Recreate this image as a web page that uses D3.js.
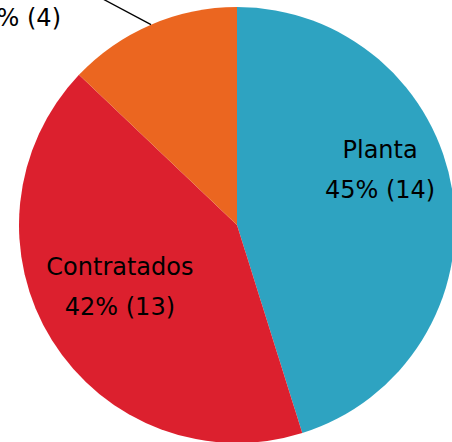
<!DOCTYPE html>
<html>
<head>
<meta charset="utf-8">
<script src="https://cdn.jsdelivr.net/npm/d3@7"></script>
<style>
  html, body { margin: 0; padding: 0; background: #fff; }
  svg { display: block; }
  text { font-family: "DejaVu Sans", sans-serif; font-size: 24px; fill: #000; }
</style>
</head>
<body>
<div id="chart"></div>
<script>
var categories = ["Planta", "Contratados", "Honorarios"];
var counts = [14, 13, 4];
var colors = ["#2ea3c1", "#dc202e", "#eb6620"];

var width = 452,
    height = 442,
    cx = 237,
    cy = 225,
    radius = 218;

var total = d3.sum(counts);
var data = categories.map((c, i) => ({ name: c, value: counts[i], color: colors[i] }));

var pie = d3.pie().sort(null).value(d => d.value);
var arcs = pie(data);

var arc = d3.arc().innerRadius(0).outerRadius(radius);

var svg = d3.select("#chart").append("svg")
    .attr("width", width)
    .attr("height", height)
    .append("g")
    .attr("transform", "translate(" + cx + "," + cy + ")");

svg.selectAll("path.slice")
    .data(arcs)
    .enter().append("path")
    .attr("class", "slice")
    .attr("d", arc)
    .style("fill", d => d.data.color);

function pct(d) {
    return Math.round(d.value / total * 100) + "% (" + d.value + ")";
}

// inside labels (big slices)
var inner = [
    { idx: 0, angle: 69.3 * Math.PI / 180, r: 153 },
    { idx: 1, angle: 241.7 * Math.PI / 180, r: 133 }
];

inner.forEach(l => {
    var d = arcs[l.idx];
    var x = l.r * Math.sin(l.angle),
        y = -l.r * Math.cos(l.angle);
    var t = svg.append("text")
        .attr("text-anchor", "middle")
        .attr("x", x)
        .attr("y", y);
    t.append("tspan").attr("x", x).attr("dy", -13).text(d.data.name);
    t.append("tspan").attr("x", x).attr("dy", 40).text(pct(d.data));
});

// outside label for the small slice
var small = arcs[2];
var mid = (small.startAngle + small.endAngle) / 2;
var ex = radius * Math.sin(mid),
    ey = -radius * Math.cos(mid);

svg.append("line")
    .attr("x1", ex)
    .attr("y1", ey)
    .attr("x2", ex - 90)
    .attr("y2", ey - 48)
    .style("stroke", "#000")
    .style("stroke-width", 1.3);

var ot = svg.append("text")
    .attr("text-anchor", "end")
    .attr("x", 61 - cx)
    .attr("y", 26 - cy);
ot.append("tspan").attr("x", 61 - cx).attr("dy", -40).text(small.data.name);
ot.append("tspan").attr("x", 61 - cx).attr("dy", 40).text(pct(small.data));
</script>
</body>
</html>
